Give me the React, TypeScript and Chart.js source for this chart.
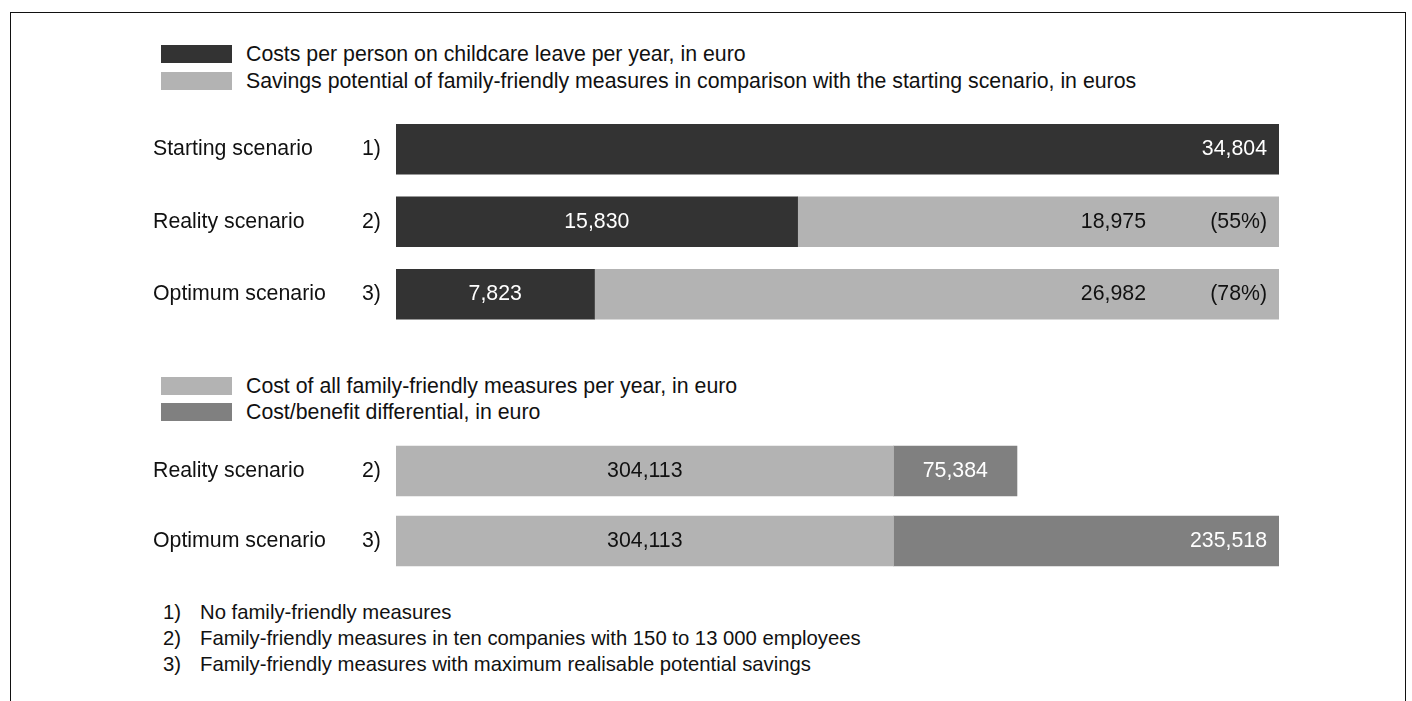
import React, { useEffect, useRef } from "react";
import { Chart, registerables } from "chart.js";

Chart.register(...registerables);

// ---- Data ----
const topCategories = ["Starting scenario", "Reality scenario", "Optimum scenario"];
const topNotes = ["1)", "2)", "3)"];
const childcareCosts = [34804, 15830, 7823];
const savingsPotential = [0, 18975, 26982];
const savingsShare = ["", "(55%)", "(78%)"];

const bottomCategories = ["Reality scenario", "Optimum scenario"];
const bottomNotes = ["2)", "3)"];
const measuresCost = [304113, 304113];
const costBenefit = [75384, 235518];

const topLegendLabels = [
  "Costs per person on childcare leave per year, in euro",
  "Savings potential of family-friendly measures in comparison with the starting scenario, in euros",
];
const bottomLegendLabels = [
  "Cost of all family-friendly measures per year, in euro",
  "Cost/benefit differential, in euro",
];
const footnoteMarks = ["1)", "2)", "3)"];
const footnoteTexts = [
  "No family-friendly measures",
  "Family-friendly measures in ten companies with 150 to 13 000 employees",
  "Family-friendly measures with maximum realisable potential savings",
];

// ---- Styles ----
const FONT = '"Liberation Sans", Arial, Helvetica, sans-serif';
const FS = 21.3;
const DARK = "#333333";
const LIGHT = "#b3b3b3";
const MID = "#808080";
const TEXT = "#111111";
const fmt = (v: number) => v.toLocaleString("en-US");

function rowLabelPlugin(cats: string[], notes: string[]) {
  return {
    id: "rowLabels",
    afterDraw(chart: any) {
      const ctx = chart.ctx;
      const y = chart.scales.y;
      ctx.save();
      ctx.font = `${FS}px ${FONT}`;
      ctx.fillStyle = TEXT;
      ctx.textBaseline = "middle";
      ctx.textAlign = "left";
      cats.forEach((c, i) => {
        const py = y.getPixelForValue(i);
        ctx.fillText(c, 153, py);
        ctx.fillText(notes[i], 362, py);
      });
      ctx.restore();
    },
  };
}

function valueLabelPlugin(colors: string[][], shares: string[] | null) {
  return {
    id: "valueLabels",
    afterDatasetsDraw(chart: any) {
      const ctx = chart.ctx;
      ctx.save();
      ctx.font = `${FS}px ${FONT}`;
      ctx.textBaseline = "middle";
      const nDs = chart.data.datasets.length;
      chart.data.datasets.forEach((ds: any, di: number) => {
        const meta = chart.getDatasetMeta(di);
        meta.data.forEach((el: any, i: number) => {
          const v = ds.data[i];
          if (!v) return;
          const left = Math.min(el.base, el.x);
          const right = Math.max(el.base, el.x);
          const width = right - left;
          let isLast = true;
          for (let k = di + 1; k < nDs; k++) if (chart.data.datasets[k].data[i]) isLast = false;
          ctx.fillStyle = colors[di][i];
          if (shares && di === 1) {
            ctx.textAlign = "right";
            ctx.fillText(fmt(v), right - 133, el.y);
            ctx.fillText(shares[i], right - 12, el.y);
          } else if (isLast && width > 250) {
            ctx.textAlign = "right";
            ctx.fillText(fmt(v), right - 12, el.y);
          } else {
            ctx.textAlign = "center";
            ctx.fillText(fmt(v), (left + right) / 2, el.y);
          }
        });
      });
      ctx.restore();
    },
  };
}

function BarBlock(props: {
  top: number;
  height: number;
  padTop: number;
  padBottom: number;
  labels: string[];
  notes: string[];
  datasets: { data: number[]; color: string }[];
  max: number;
  labelColors: string[][];
  shares: string[] | null;
}) {
  const ref = useRef<HTMLCanvasElement>(null);
  useEffect(() => {
    if (!ref.current) return;
    const chart = new Chart(ref.current, {
      type: "bar",
      data: {
        labels: props.labels,
        datasets: props.datasets.map((d) => ({
          data: d.data,
          backgroundColor: d.color,
          borderWidth: 0,
          barThickness: 50,
        })),
      },
      options: {
        indexAxis: "y",
        animation: false,
        responsive: false,
        devicePixelRatio: 1,
        layout: {
          padding: { left: 396, right: 1412 - 1279, top: props.padTop, bottom: props.padBottom },
        },
        scales: {
          x: { stacked: true, min: 0, max: props.max, display: false },
          y: { stacked: true, display: false },
        },
        plugins: { legend: { display: false }, tooltip: { enabled: false } },
      },
      plugins: [
        rowLabelPlugin(props.labels, props.notes),
        valueLabelPlugin(props.labelColors, props.shares),
      ],
    } as any);
    return () => chart.destroy();
  }, []);
  return (
    <canvas
      ref={ref}
      width={1412}
      height={props.height}
      style={{ position: "absolute", left: 0, top: props.top, width: 1412, height: props.height }}
    />
  );
}

function LegendRow(props: { y: number; color: string; text: string }) {
  return (
    <div style={{ position: "absolute", left: 0, top: props.y - 12, height: 24, width: 1412 }}>
      <div
        style={{
          position: "absolute",
          left: 161,
          top: 3,
          width: 71,
          height: 18,
          background: props.color,
        }}
      />
      <div
        style={{
          position: "absolute",
          left: 246,
          top: 0,
          lineHeight: "24px",
          fontSize: FS,
          fontFamily: FONT,
          color: TEXT,
          whiteSpace: "nowrap",
        }}
      >
        {props.text}
      </div>
    </div>
  );
}

export default function App() {
  return (
    <div
      style={{
        position: "absolute",
        left: 0,
        top: 0,
        width: 1412,
        height: 701,
        overflow: "hidden",
        background: "#fff",
      }}
    >
      <div
        style={{
          position: "absolute",
          left: 10,
          top: 12,
          width: 1396,
          height: 760,
          border: "1.5px solid #111",
          boxSizing: "border-box",
        }}
      />
      <LegendRow y={54} color={DARK} text={topLegendLabels[0]} />
      <LegendRow y={81} color={LIGHT} text={topLegendLabels[1]} />
      <BarBlock
        top={100}
        height={240}
        padTop={13}
        padBottom={9.5}
        labels={topCategories}
        notes={topNotes}
        datasets={[
          { data: childcareCosts, color: DARK },
          { data: savingsPotential, color: LIGHT },
        ]}
        max={34805}
        labelColors={[
          ["#fff", "#fff", "#fff"],
          [TEXT, TEXT, TEXT],
        ]}
        shares={savingsShare}
      />
      <LegendRow y={386} color={LIGHT} text={bottomLegendLabels[0]} />
      <LegendRow y={412} color={MID} text={bottomLegendLabels[1]} />
      <BarBlock
        top={420}
        height={170}
        padTop={16}
        padBottom={14}
        labels={bottomCategories}
        notes={bottomNotes}
        datasets={[
          { data: measuresCost, color: LIGHT },
          { data: costBenefit, color: MID },
        ]}
        max={539631}
        labelColors={[
          [TEXT, TEXT],
          ["#fff", "#fff"],
        ]}
        shares={null}
      />
      {footnoteTexts.map((t, i) => (
        <div
          key={i}
          style={{
            position: "absolute",
            left: 0,
            top: 612 + i * 26 - 12,
            height: 24,
            lineHeight: "24px",
            fontSize: 20.3,
            fontFamily: FONT,
            color: TEXT,
            whiteSpace: "nowrap",
          }}
        >
          <span style={{ position: "absolute", left: 163 }}>{footnoteMarks[i]}</span>
          <span style={{ position: "absolute", left: 200 }}>{t}</span>
        </div>
      ))}
    </div>
  );
}
